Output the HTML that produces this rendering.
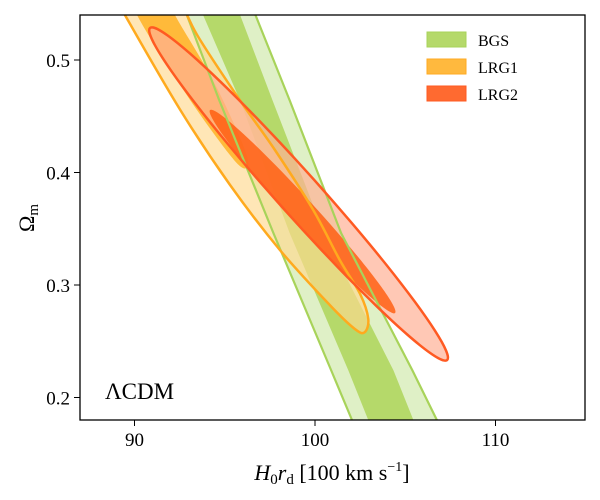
<!DOCTYPE html>
<html><head><meta charset="utf-8">
<style>
html,body{margin:0;padding:0;background:#fff;}
svg{display:block;font-family:"Liberation Serif",serif;}
</style></head>
<body>
<svg id="chart" width="600" height="500" viewBox="0 0 600 500">
<defs><clipPath id="plotclip"><rect x="80" y="15" width="505" height="405"/></clipPath></defs>
<g id="plot" clip-path="url(#plotclip)"></g>
<rect x="80" y="15" width="505" height="405" fill="none" stroke="#000" stroke-width="1.3"/>
<g id="ticks"></g>
<text x="105" y="399" font-size="23">ΛCDM</text>
<text x="332" y="480" font-size="22" text-anchor="middle"><tspan font-style="italic">H</tspan><tspan font-size="15" dy="4">0</tspan><tspan font-style="italic" dy="-4">r</tspan><tspan font-size="15" dy="4">d</tspan><tspan dy="-4"> [100 km s</tspan><tspan font-size="14" dy="-9">−1</tspan><tspan dy="9">]</tspan></text>
<text transform="translate(34,218) rotate(-90)" font-size="22" text-anchor="middle">Ω<tspan font-size="15" dy="4">m</tspan></text>
<g>
<rect x="427" y="32" width="39" height="15" fill="#b5d96a" stroke="#a8d35a"/>
<text x="478" y="46" font-size="16">BGS</text>
<rect x="427" y="59" width="39" height="15" fill="#ffb93e" stroke="#ffaa22"/>
<text x="478" y="73" font-size="16">LRG1</text>
<rect x="427" y="86" width="39" height="15" fill="#ff6a30" stroke="#ff5a22"/>
<text x="478" y="100" font-size="16">LRG2</text>
</g>
</svg>
<script>
const xTicks = [90, 100, 110];
const yTicks = [0.2, 0.3, 0.4, 0.5];
const xTickLabels = ["90", "100", "110"];
const yTickLabels = ["0.2", "0.3", "0.4", "0.5"];
// BGS band edges at given Omega_m levels
const bgsY = [0.56, 0.54, 0.464, 0.346, 0.224, 0.18, 0.16];
const bgsOuterLeft = [92.4, 92.9, 94.7, 97.7, 100.9, 102.05, 102.55];
const bgsOuterRight = [96.2, 96.7, 98.6, 101.45, 105.4, 106.75, 107.35];
const bgsInnerLeft = [93.3, 93.8, 95.85, 98.6, 101.85, 102.95, 103.45];
const bgsInnerRight = [95.4, 95.85, 97.65, 100.5, 104.35, 105.45, 105.95];
// LRG1 contours (H0rd, Omega_m)
const lrg1Outer = [[88.75,0.562],[89.47,0.54],[92.52,0.456],[95.29,0.389],[98.06,0.331],[100.83,0.282],[102.2,0.261],[102.75,0.258],[102.95,0.27],[102.5,0.292],[101.38,0.322],[99.89,0.367],[97.78,0.42],[95.85,0.464],[93.63,0.518],[92.91,0.54],[92.24,0.562]];
const lrg1Inner = [[89.86,0.562],[90.14,0.54],[92.52,0.478],[94.6,0.43],[95.9,0.405],[96.3,0.41],[95.6,0.44],[94.18,0.487],[92.24,0.54],[91.69,0.562]];
// LRG2 ellipses: center, major vector, minor vector
const lrg2OuterCenter = [99.09, 0.3809];
const lrg2OuterMajor = [8.23, -0.1476];
const lrg2OuterMinor = [0.866, 0.01245];
const lrg2InnerCenter = [99.31, 0.3653];
const lrg2InnerMajor = [5.125, -0.0902];
const lrg2InnerMinor = [0.5, 0.0073];

const X = v => 134.5 + (v - 90) * 18.05;
const Y = v => 15 + (0.54 - v) * 1125;
const NS = "http://www.w3.org/2000/svg";
const plot = document.getElementById('plot');
const ticksG = document.getElementById('ticks');

function smoothPath(pts){
  const p = pts.map(d => [X(d[0]), Y(d[1])]);
  const n = p.length;
  let s = "M" + p[0][0].toFixed(2) + "," + p[0][1].toFixed(2);
  for (let i = 0; i < n; i++){
    const p0 = p[(i-1+n)%n], p1 = p[i], p2 = p[(i+1)%n], p3 = p[(i+2)%n];
    const c1 = [p1[0]+(p2[0]-p0[0])/6, p1[1]+(p2[1]-p0[1])/6];
    const c2 = [p2[0]-(p3[0]-p1[0])/6, p2[1]-(p3[1]-p1[1])/6];
    s += "C"+c1[0].toFixed(2)+","+c1[1].toFixed(2)+" "+c2[0].toFixed(2)+","+c2[1].toFixed(2)+" "+p2[0].toFixed(2)+","+p2[1].toFixed(2);
  }
  return s + "Z";
}
function bandPts(left, right){
  const pts = [];
  for (let i = 0; i < bgsY.length; i++) pts.push([left[i], bgsY[i]]);
  for (let i = bgsY.length-1; i >= 0; i--) pts.push([right[i], bgsY[i]]);
  return pts;
}
function linePath(xs){
  return xs.map((v,i)=> (i?"L":"M")+X(v).toFixed(2)+","+Y(bgsY[i]).toFixed(2)).join("");
}
function ellipsePts(c, a, b){
  const pts = [];
  for (let k = 0; k < 48; k++){
    const t = k/48*2*Math.PI;
    pts.push([c[0]+Math.cos(t)*a[0]+Math.sin(t)*b[0], c[1]+Math.cos(t)*a[1]+Math.sin(t)*b[1]]);
  }
  return pts;
}
function addPath(d, fill, op, stroke, sw){
  const el = document.createElementNS(NS, 'path');
  el.setAttribute('d', d);
  el.setAttribute('fill', fill);
  el.setAttribute('fill-opacity', op);
  el.setAttribute('stroke', stroke || 'none');
  el.setAttribute('stroke-width', sw || 0);
  el.setAttribute('stroke-linejoin', 'round');
  plot.appendChild(el);
  return el;
}
function polyPath(pts){return pts.map((d,i)=>(i?"L":"M")+X(d[0]).toFixed(2)+","+Y(d[1]).toFixed(2)).join("")+"Z";}
let e;
e = addPath(polyPath(bandPts(bgsOuterLeft, bgsOuterRight)), '#dff0c6', 1);


e = addPath(polyPath(bandPts(bgsInnerLeft, bgsInnerRight)), '#b5d96a', 1);


e = addPath(smoothPath(lrg1Outer), '#ffd98f', 0.65);


e = addPath(smoothPath(lrg1Inner), '#ffb125', 0.85);


e = addPath(smoothPath(ellipsePts(lrg2OuterCenter, lrg2OuterMajor, lrg2OuterMinor)), '#ffb096', 0.7);


e = addPath(smoothPath(ellipsePts(lrg2InnerCenter, lrg2InnerMajor, lrg2InnerMinor)), '#ff5a0a', 0.8);


e = addPath(linePath(bgsOuterLeft), 'none', 0, '#a8d35a', 2.2);


e = addPath(linePath(bgsOuterRight), 'none', 0, '#a8d35a', 2.2);


e = addPath(smoothPath(lrg1Outer), 'none', 0, '#ffaa1e', 2.5);


e = addPath(smoothPath(ellipsePts(lrg2OuterCenter, lrg2OuterMajor, lrg2OuterMinor)), 'none', 0, '#ff5a22', 2.5);



xTicks.forEach((v,i)=>{
  const l = document.createElementNS(NS,'line');
  l.setAttribute('x1', X(v)); l.setAttribute('x2', X(v));
  l.setAttribute('y1', 420); l.setAttribute('y2', 426);
  l.setAttribute('stroke', '#000'); l.setAttribute('stroke-width', 1);
  
  
  ticksG.appendChild(l);
  const t = document.createElementNS(NS,'text');
  t.setAttribute('x', X(v)); t.setAttribute('y', 446);
  t.setAttribute('font-size', 19); t.setAttribute('text-anchor', 'middle');
  t.textContent = xTickLabels[i];
  
  
  ticksG.appendChild(t);
});
yTicks.forEach((v,i)=>{
  const l = document.createElementNS(NS,'line');
  l.setAttribute('x1', 74); l.setAttribute('x2', 80);
  l.setAttribute('y1', Y(v)); l.setAttribute('y2', Y(v));
  l.setAttribute('stroke', '#000'); l.setAttribute('stroke-width', 1);
  
  
  ticksG.appendChild(l);
  const t = document.createElementNS(NS,'text');
  t.setAttribute('x', 70); t.setAttribute('y', Y(v) + 7);
  t.setAttribute('font-size', 19); t.setAttribute('text-anchor', 'end');
  t.textContent = yTickLabels[i];
  
  
  ticksG.appendChild(t);
});
</script>
</body></html>
